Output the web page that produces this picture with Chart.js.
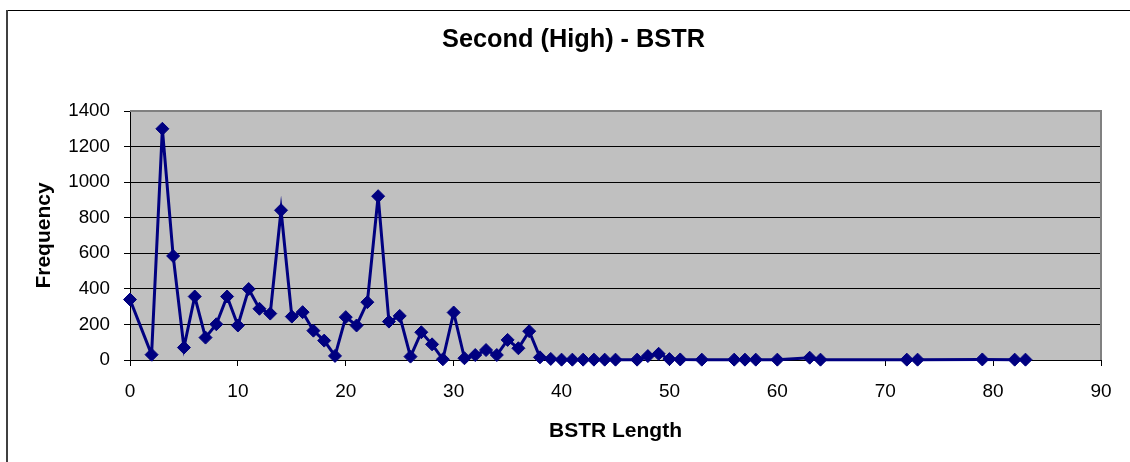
<!DOCTYPE html>
<html>
<head>
<meta charset="utf-8">
<title>Second (High) - BSTR</title>
<script src="https://cdn.jsdelivr.net/npm/chart.js@4/dist/chart.umd.min.js"></script>
<style>
  html, body { margin: 0; padding: 0; background: #ffffff; }
  #wrap { position: relative; width: 1130px; height: 462px; }
</style>
</head>
<body>
<div id="wrap"><canvas id="chart" width="1130" height="462"></canvas></div>
<script>
// BSTR length (x) and how often each length occurs (y)
const bstrLengths = [
  0, 2, 3, 4, 5, 6, 7, 8, 9, 10,
  11, 12, 13, 14, 15, 16, 17, 18, 19, 20,
  21, 22, 23, 24, 25, 26, 27, 28, 29, 30,
  31, 32, 33, 34, 35, 36, 37, 38, 39, 40,
  41, 42, 43, 44, 45, 47, 48, 49, 50, 51,
  53, 56, 57, 58, 60, 63, 64, 72, 73, 79,
  82, 83
];
const frequencies = [
  340, 30, 1300, 585, 70, 357, 126, 201, 357, 194,
  399, 288, 261, 842, 244, 269, 165, 109, 23, 241,
  194, 325, 921, 216, 248, 19, 156, 88, 4, 267,
  10, 28, 56, 28, 113, 66, 162, 15, 6, 2,
  2, 2, 2, 2, 2, 2, 22, 35, 5, 3,
  2, 2, 2, 2, 2, 13, 2, 2, 2, 3,
  2, 2
];
const xTickValues = [0, 10, 20, 30, 40, 50, 60, 70, 80, 90];
const yTickValues = [0, 200, 400, 600, 800, 1000, 1200, 1400];

const chartTitle = 'Second (High) - BSTR';
const xAxisTitle = 'BSTR Length';
const yAxisTitle = 'Frequency';

const FONT = "'Liberation Sans', Arial, sans-serif";
Chart.defaults.font.family = FONT;
Chart.defaults.color = '#000000';

const points = bstrLengths.map((x, i) => ({ x: x, y: frequencies[i] }));

// Grey plot background, grey top/right frame, outer chart frame and the title
const frame = {
  id: 'frame',
  beforeDraw(chart) {
    const { ctx, chartArea: a } = chart;
    ctx.save();
    ctx.fillStyle = '#ffffff';
    ctx.fillRect(0, 0, chart.width, chart.height);
    ctx.fillStyle = '#c0c0c0';
    ctx.fillRect(a.left, a.top, a.right - a.left, a.bottom - a.top);
    ctx.restore();
  },
  beforeDatasetsDraw(chart) {
    const { ctx, chartArea: a } = chart;
    ctx.save();
    ctx.fillStyle = '#808080';
    ctx.fillRect(a.left, a.top - 1, a.right - a.left + 1, 2);
    ctx.fillRect(a.right - 1, a.top - 1, 2, a.bottom - a.top + 1);
    ctx.restore();
  },
  afterDraw(chart) {
    const { ctx } = chart;
    ctx.save();
    // outer frame
    ctx.fillStyle = '#000000';
    ctx.fillRect(6, 10, chart.width - 6, 1);
    ctx.fillStyle = '#404040';
    ctx.fillRect(6, 10, 2, chart.height - 10);
    // chart title
    ctx.fillStyle = '#000000';
    ctx.font = 'bold 25.3px ' + FONT;
    ctx.textAlign = 'center';
    ctx.textBaseline = 'alphabetic';
    ctx.fillText(chartTitle, 573.5, 47);
    ctx.restore();
  }
};

new Chart(document.getElementById('chart'), {
  type: 'scatter',
  data: {
    datasets: [{
      data: points,
      showLine: true,
      borderColor: '#000080',
      backgroundColor: '#000080',
      borderWidth: 3,
      pointStyle: 'rectRot',
      pointRadius: 6.5,
      pointBorderWidth: 1,
      pointBorderColor: '#000080',
      pointBackgroundColor: '#000080',
      tension: 0,
      clip: false
    }]
  },
  options: {
    responsive: false,
    animation: false,
    events: [],
    layout: { padding: { top: 111, right: 29, bottom: 0, left: 0 } },
    plugins: {
      legend: { display: false },
      title: { display: false },
      tooltip: { enabled: false }
    },
    scales: {
      x: {
        type: 'linear',
        min: 0,
        max: 90,
        afterFit(scale) { scale.height = 102; },
        afterBuildTicks(scale) { scale.ticks = xTickValues.map(v => ({ value: v })); },
        ticks: {
          font: { size: 19 },
          padding: 14,
          maxRotation: 0,
          callback: v => String(v)
        },
        grid: {
          display: true,
          drawOnChartArea: false,
          drawTicks: true,
          tickLength: 6,
          color: '#000000',
          lineWidth: 1
        },
        border: { display: true, color: '#000000', width: 1 },
        title: {
          display: true,
          text: xAxisTitle,
          font: { size: 21, weight: 'bold' },
          padding: { top: 0, bottom: 18.4 }
        }
      },
      y: {
        type: 'linear',
        min: 0,
        max: 1400,
        afterFit(scale) { scale.width = 130; },
        afterBuildTicks(scale) { scale.ticks = yTickValues.map(v => ({ value: v })); },
        ticks: {
          font: { size: 18.8 },
          padding: 14,
          callback: v => String(v)
        },
        grid: {
          display: true,
          drawTicks: true,
          tickLength: 6,
          color: '#000000',
          lineWidth: 1
        },
        border: { display: true, color: '#000000', width: 1 },
        title: {
          display: true,
          text: yAxisTitle,
          font: { size: 21, weight: 'bold' },
          padding: { top: 31.4, bottom: 0 }
        }
      }
    }
  },
  plugins: [frame]
});
</script>
</body>
</html>
